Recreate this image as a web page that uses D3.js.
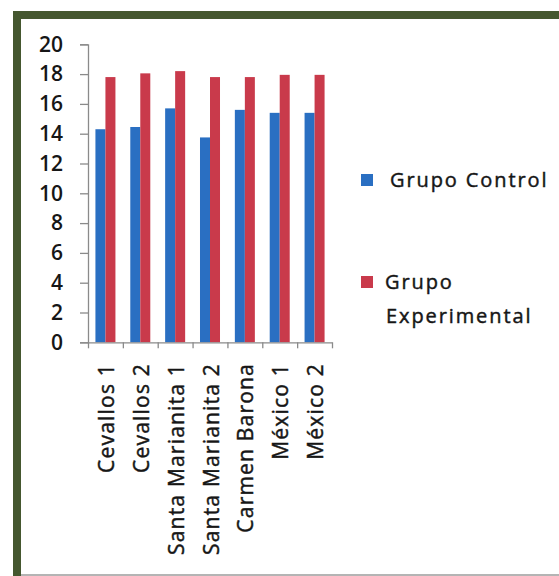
<!DOCTYPE html>
<html>
<head>
<meta charset="utf-8">
<script src="https://cdn.jsdelivr.net/npm/d3@7/dist/d3.min.js"></script>
<style>
  html, body { margin: 0; padding: 0; background: #fff; }
  svg { display: block; }
  text { font-family: "Open Sans", "Liberation Sans", sans-serif; fill: #161616; }
</style>
</head>
<body>
<svg id="chart" width="559" height="576"></svg>
<script>
const categories = ["Cevallos 1", "Cevallos 2", "Santa Marianita 1", "Santa Marianita 2", "Carmen Barona", "México 1", "México 2"];
const seriesNames = ["Grupo Control", "Grupo Experimental"];
const controlValues = [14.3, 14.45, 15.7, 13.75, 15.6, 15.4, 15.4];
const experimentalValues = [17.8, 18.05, 18.2, 17.8, 17.8, 17.95, 17.95];
const yTicks = [0, 2, 4, 6, 8, 10, 12, 14, 16, 18, 20];
const colors = ["#2a6fc2", "#c93a4b"];

const svg = d3.select("#chart");

// frame
svg.append("rect").attr("x", 0).attr("y", 0).attr("width", 559).attr("height", 576).attr("fill", "#fff");
svg.append("rect").attr("x", 13).attr("y", 11).attr("width", 546).attr("height", 8).attr("fill", "#45572f");
svg.append("rect").attr("x", 13).attr("y", 11).attr("width", 8).attr("height", 565).attr("fill", "#45572f");
svg.append("rect").attr("x", 21).attr("y", 574).attr("width", 538).attr("height", 2).attr("fill", "#b4b4b4");

const plotLeft = 88, plotRight = 332, plotTop = 44.3, plotBottom = 342.3;

const x0 = d3.scaleBand().domain(categories).range([plotLeft, plotRight])
  .paddingInner(0.426).paddingOuter(0.213);
const x1 = d3.scaleBand().domain(seriesNames).range([0, x0.bandwidth()]).padding(0);
const y = d3.scaleLinear().domain([0, 20]).range([plotBottom, plotTop]);
const xb = d3.scaleLinear().domain([0, categories.length]).range([plotLeft, plotRight]);

const data = categories.map((c, i) => ({ cat: c, vals: [controlValues[i], experimentalValues[i]] }));

// bars
const g = svg.append("g");
g.selectAll("g.grp").data(data).join("g")
  .attr("class", "grp")
  .attr("transform", d => `translate(${x0(d.cat)},0)`)
  .selectAll("rect").data(d => d.vals.map((v, k) => ({ v, k })))
  .join("rect")
  .attr("x", d => x1(seriesNames[d.k]))
  .attr("y", d => y(d.v))
  .attr("width", x1.bandwidth())
  .attr("height", d => y(0) - y(d.v))
  .attr("fill", d => colors[d.k]);

// y axis
const yAxis = svg.append("g").attr("transform", `translate(${plotLeft},0)`)
  .call(d3.axisLeft(y).tickValues(yTicks).tickFormat(d3.format("d")).tickSize(8).tickPadding(17));
yAxis.selectAll("path, line").attr("stroke", "#8a8a8a").attr("stroke-width", 1.3);
yAxis.selectAll("text").style("font-size", "21px").style("font-weight", "600").attr("fill", "#161616");

// x axis
const xAxis = svg.append("g").attr("transform", `translate(0,${plotBottom})`)
  .call(d3.axisBottom(xb).tickValues(d3.range(categories.length + 1)).tickFormat("").tickSize(6).tickSizeOuter(0));
xAxis.selectAll("path, line").attr("stroke", "#8a8a8a").attr("stroke-width", 1.3);

// x labels
svg.append("g").selectAll("text").data(categories).join("text")
  .attr("transform", d => `translate(${x0(d) + x0.bandwidth() / 2 + 1},363) rotate(-90)`)
  .attr("text-anchor", "end")
  .attr("dy", "0.36em")
  .style("font-size", "21px")
  .style("letter-spacing", "1.2px")
  .attr("stroke", "#161616")
  .attr("stroke-width", 0.45)
  .text(d => d);

// legend
const legend = svg.append("g");
legend.append("rect").attr("x", 361).attr("y", 174).attr("width", 12).attr("height", 12).attr("fill", colors[0]);
legend.append("text").attr("x", 390).attr("y", 187).style("font-size", "20px").style("letter-spacing", "1.9px")
  .attr("stroke", "#161616").attr("stroke-width", 0.45).text(seriesNames[0]);
legend.append("rect").attr("x", 361).attr("y", 276).attr("width", 12).attr("height", 12).attr("fill", colors[1]);
const t2 = legend.append("text").style("font-size", "20px").style("letter-spacing", "1.9px")
  .attr("stroke", "#161616").attr("stroke-width", 0.45);
const parts = seriesNames[1].split(" ");
t2.append("tspan").attr("x", 385).attr("y", 289).text(parts[0]);
t2.append("tspan").attr("x", 386).attr("y", 323).text(parts[1]);
</script>
</body>
</html>
